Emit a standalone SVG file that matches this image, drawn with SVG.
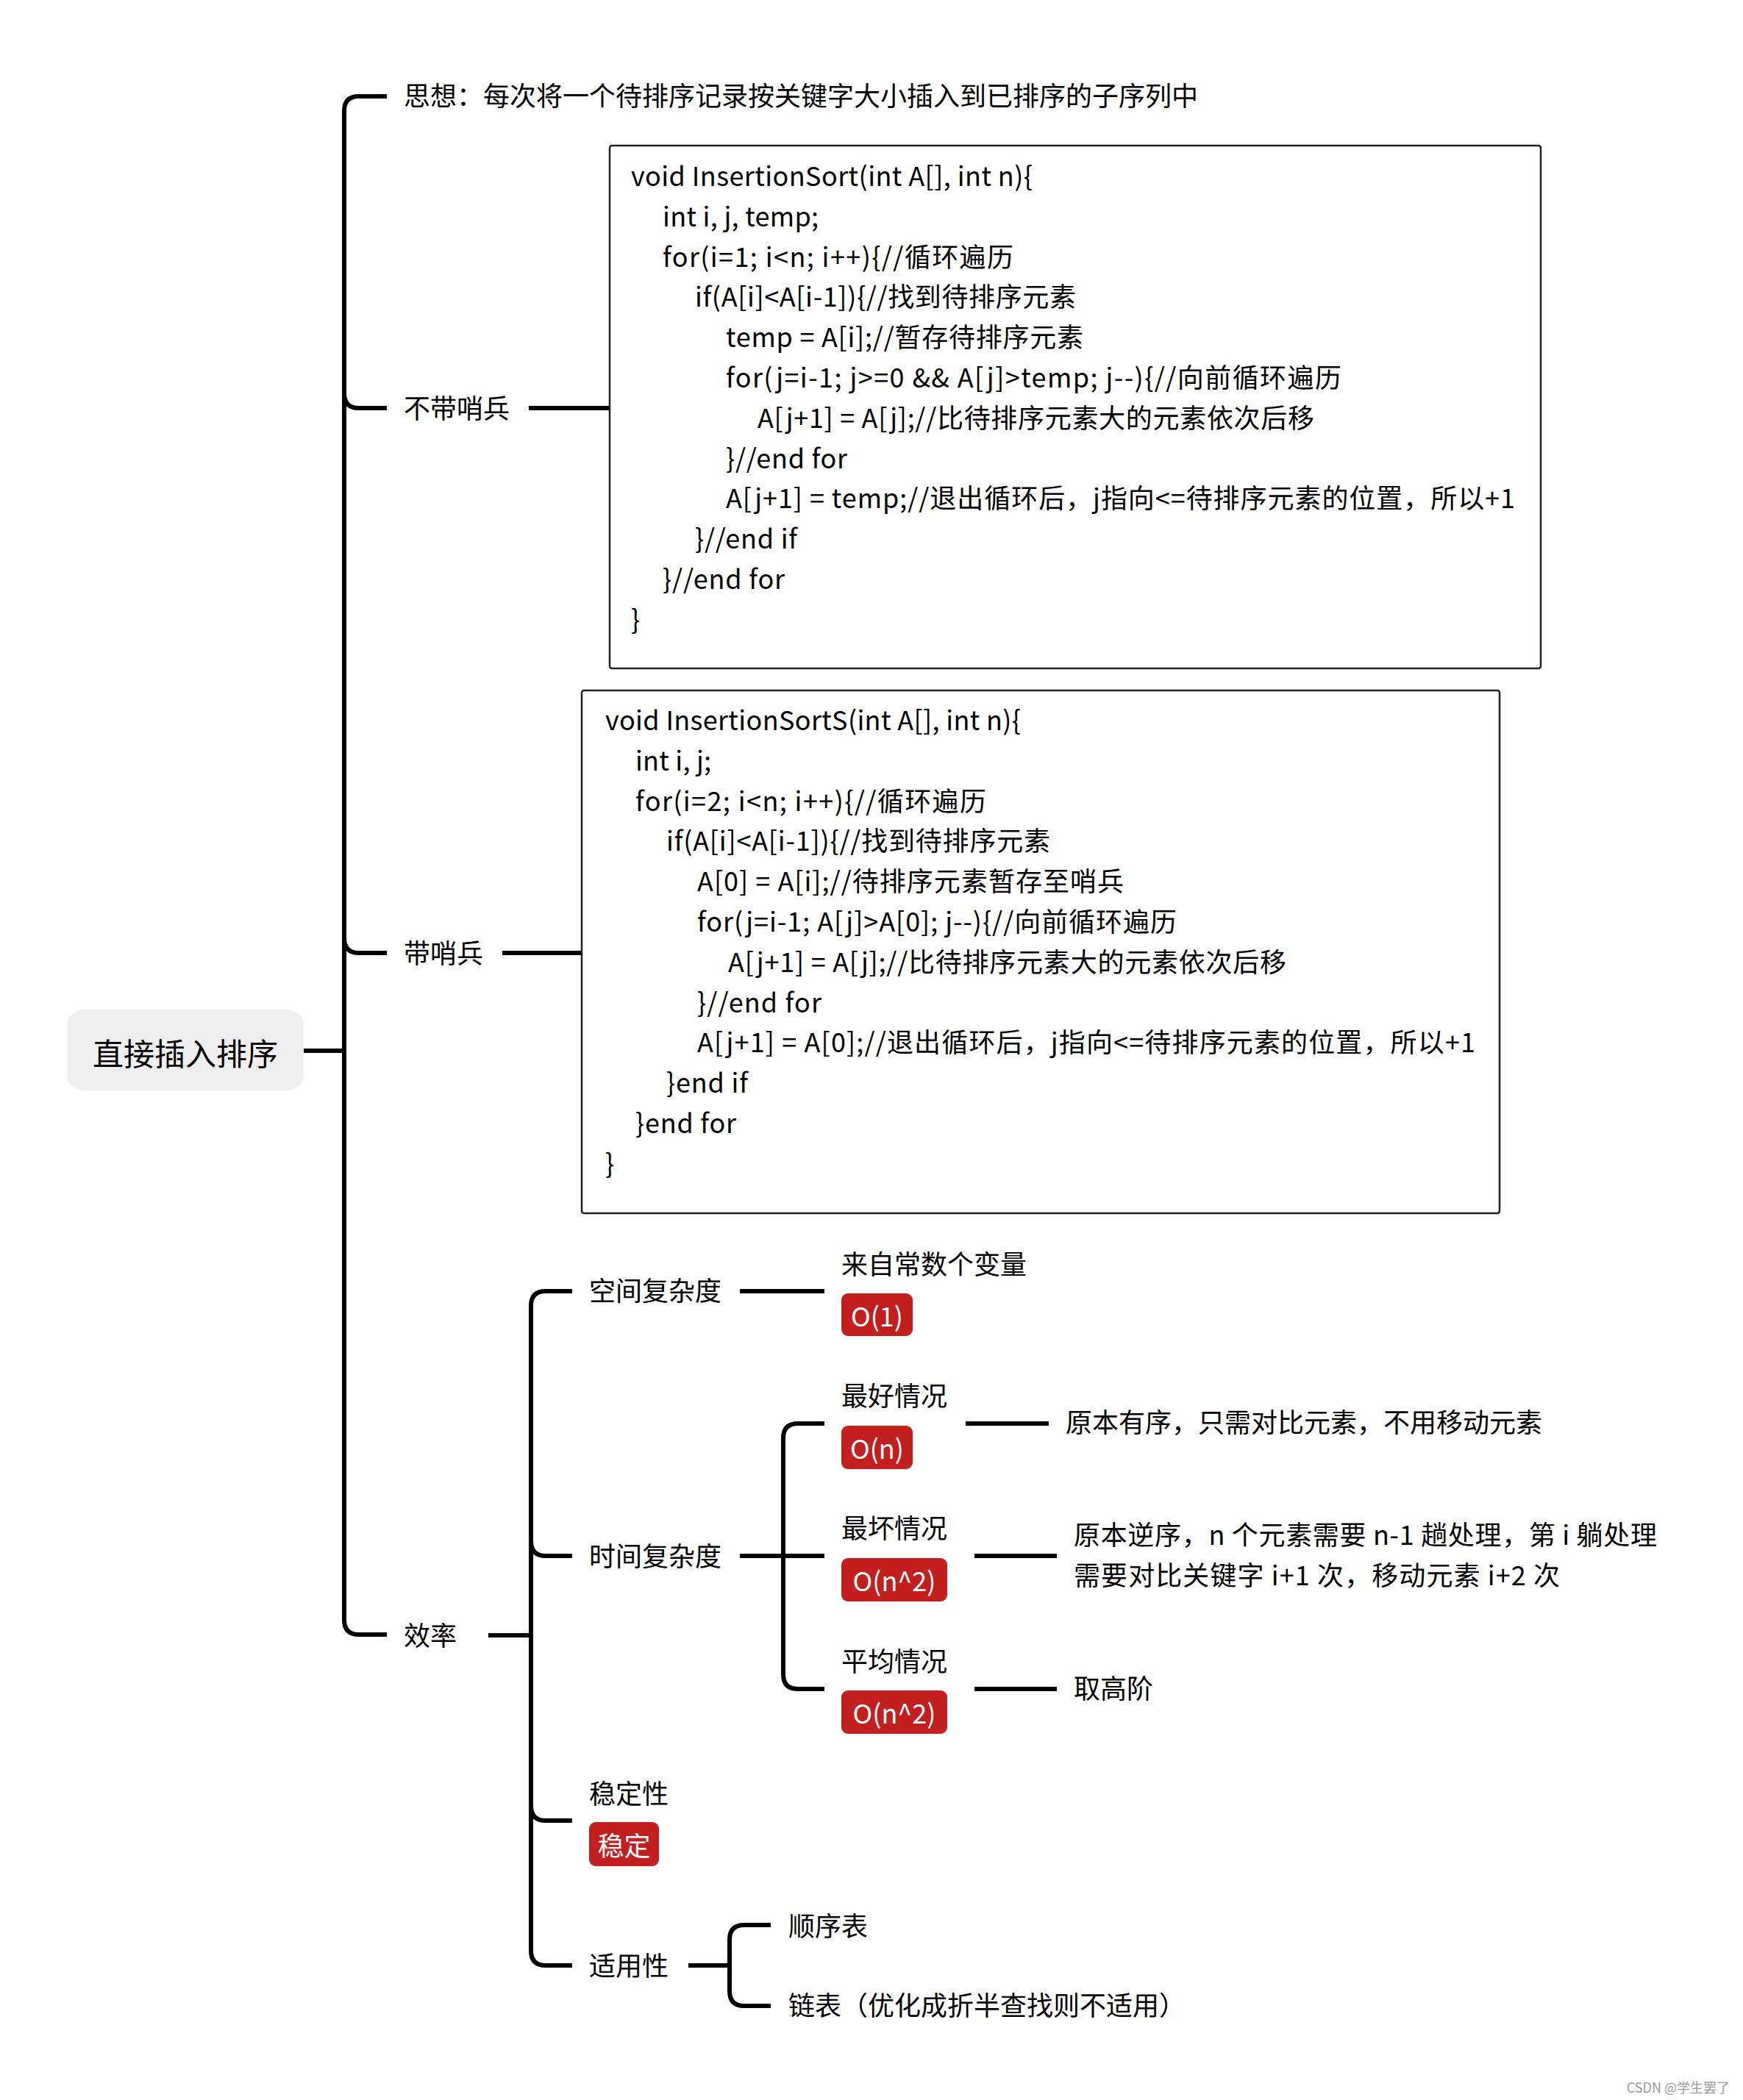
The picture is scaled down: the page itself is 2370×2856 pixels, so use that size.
<svg xmlns="http://www.w3.org/2000/svg" width="2370" height="2856" viewBox="0 0 2370 2856">
<style>
text{font-family:"Noto Sans CJK SC","Microsoft YaHei",sans-serif;fill:#000;dominant-baseline:central}
.t{font-size:36px}
.root{font-size:42px;text-anchor:middle}
.code{font-size:36px}
.bt{font-size:36px;fill:#fff;text-anchor:middle}
.wm{font-size:18px;fill:#999;text-anchor:end}
.ln{fill:none;stroke:#000;stroke-width:6;stroke-linecap:butt}
.box{fill:#fff;stroke:#222;stroke-width:2.5}
.badge{fill:#C21F1E}
</style>
<rect width="2370" height="2856" fill="#fff"/>
<g id="connectors">
<path class="ln" d="M413 1429 H468"/>
<path class="ln" d="M526 131 H488 Q468 131 468 151 V2203 Q468 2223 488 2223 H526"/>
<path class="ln" d="M468 535 Q468 555 488 555 H526"/>
<path class="ln" d="M468 1276 Q468 1296 488 1296 H526"/>
<path class="ln" d="M719 555 H830"/>
<path class="ln" d="M683 1296 H793"/>
<path class="ln" d="M664 2224 H722"/>
<path class="ln" d="M778 1756 H742 Q722 1756 722 1776 V2653 Q722 2673 742 2673 H778"/>
<path class="ln" d="M722 2096 Q722 2116 742 2116 H778"/>
<path class="ln" d="M722 2456 Q722 2476 742 2476 H778"/>
<path class="ln" d="M1006 1756 H1121"/>
<path class="ln" d="M1006 2116 H1121"/>
<path class="ln" d="M1121 1936 H1085 Q1065 1936 1065 1956 V2277 Q1065 2297 1085 2297 H1121"/>
<path class="ln" d="M1313 1936 H1426"/>
<path class="ln" d="M1325 2116 H1437"/>
<path class="ln" d="M1325 2297 H1437"/>
<path class="ln" d="M936 2673 H992"/>
<path class="ln" d="M1048 2618 H1012 Q992 2618 992 2638 V2708 Q992 2728 1012 2728 H1048"/>
</g>
<g id="root">
<rect x="91" y="1373" width="322" height="110" rx="22" fill="#EFEFEF"/>
<text class="root" x="252" y="1430">直接插入排序</text>
</g>
<g id="idea"><text class="t" x="549" y="128">思想：每次将一个待排序记录按关键字大小插入到已排序的子序列中</text></g>
<g id="nosentinel"><text class="t" x="549" y="553">不带哨兵</text></g>
<g id="code1">
<rect class="box" x="829" y="198" width="1266" height="711" rx="3"/>
<text class="code" x="858" y="237" textLength="546" lengthAdjust="spacing">void InsertionSort(int A[], int n){</text>
<text class="code" x="901" y="292" textLength="212" lengthAdjust="spacing">int i, j, temp;</text>
<text class="code" x="901" y="347" textLength="477" lengthAdjust="spacing">for(i=1; i&lt;n; i++){//循环遍历</text>
<text class="code" x="945" y="401" textLength="518" lengthAdjust="spacing">if(A[i]&lt;A[i-1]){//找到待排序元素</text>
<text class="code" x="987" y="456" textLength="486" lengthAdjust="spacing">temp = A[i];//暂存待排序元素</text>
<text class="code" x="987" y="511" textLength="837" lengthAdjust="spacing">for(j=i-1; j&gt;=0 &amp;&amp; A[j]&gt;temp; j--){//向前循环遍历</text>
<text class="code" x="1030" y="566" textLength="757" lengthAdjust="spacing">A[j+1] = A[j];//比待排序元素大的元素依次后移</text>
<text class="code" x="987" y="621" textLength="165" lengthAdjust="spacing">}//end for</text>
<text class="code" x="987" y="675" textLength="1073" lengthAdjust="spacing">A[j+1] = temp;//退出循环后，j指向&lt;=待排序元素的位置，所以+1</text>
<text class="code" x="945" y="730" textLength="139" lengthAdjust="spacing">}//end if</text>
<text class="code" x="901" y="785" textLength="166" lengthAdjust="spacing">}//end for</text>
<text class="code" x="858" y="840">}</text>
</g>
<g id="sentinel"><text class="t" x="549" y="1294">带哨兵</text></g>
<g id="code2">
<rect class="box" x="791" y="939" width="1248" height="711" rx="3"/>
<text class="code" x="823" y="977" textLength="565" lengthAdjust="spacing">void InsertionSortS(int A[], int n){</text>
<text class="code" x="864" y="1032" textLength="103" lengthAdjust="spacing">int i, j;</text>
<text class="code" x="864" y="1087" textLength="477" lengthAdjust="spacing">for(i=2; i&lt;n; i++){//循环遍历</text>
<text class="code" x="906" y="1141" textLength="522" lengthAdjust="spacing">if(A[i]&lt;A[i-1]){//找到待排序元素</text>
<text class="code" x="948" y="1196" textLength="580" lengthAdjust="spacing">A[0] = A[i];//待排序元素暂存至哨兵</text>
<text class="code" x="948" y="1251" textLength="652" lengthAdjust="spacing">for(j=i-1; A[j]&gt;A[0]; j--){//向前循环遍历</text>
<text class="code" x="990" y="1306" textLength="759" lengthAdjust="spacing">A[j+1] = A[j];//比待排序元素大的元素依次后移</text>
<text class="code" x="948" y="1361" textLength="169" lengthAdjust="spacing">}//end for</text>
<text class="code" x="948" y="1415" textLength="1058" lengthAdjust="spacing">A[j+1] = A[0];//退出循环后，j指向&lt;=待排序元素的位置，所以+1</text>
<text class="code" x="906" y="1470" textLength="111" lengthAdjust="spacing">}end if</text>
<text class="code" x="864" y="1525" textLength="137" lengthAdjust="spacing">}end for</text>
<text class="code" x="823" y="1580">}</text>
</g>
<g id="efficiency"><text class="t" x="549" y="2222">效率</text></g>
<g id="space"><text class="t" x="801" y="1753">空间复杂度</text></g>
<g id="space-o1">
<text class="t" x="1144" y="1717">来自常数个变量</text>
<rect class="badge" x="1144" y="1759" width="97" height="58" rx="9"/>
<text class="bt" x="1192.5" y="1788">O(1)</text>
</g>
<g id="time"><text class="t" x="801" y="2114">时间复杂度</text></g>
<g id="best">
<text class="t" x="1144" y="1896">最好情况</text>
<rect class="badge" x="1144" y="1939" width="97" height="59" rx="9"/>
<text class="bt" x="1192.5" y="1968">O(n)</text>
</g>
<g id="best-note"><text class="t" x="1449" y="1932">原本有序，只需对比元素，不用移动元素</text></g>
<g id="worst">
<text class="t" x="1144" y="2076">最坏情况</text>
<rect class="badge" x="1144" y="2119" width="144" height="59" rx="9"/>
<text class="bt" x="1216" y="2148">O(n^2)</text>
</g>
<g id="worst-note">
<text class="t" x="1460" y="2085" textLength="793" lengthAdjust="spacing">原本逆序，n 个元素需要 n-1 趟处理，第 i 躺处理</text>
<text class="t" x="1460" y="2140" textLength="661" lengthAdjust="spacing">需要对比关键字 i+1 次，移动元素 i+2 次</text>
</g>
<g id="avg">
<text class="t" x="1144" y="2257">平均情况</text>
<rect class="badge" x="1144" y="2299" width="144" height="59" rx="9"/>
<text class="bt" x="1216" y="2328">O(n^2)</text>
</g>
<g id="avg-note"><text class="t" x="1460" y="2294">取高阶</text></g>
<g id="stability">
<text class="t" x="801" y="2437">稳定性</text>
<rect class="badge" x="801" y="2478" width="95" height="60" rx="9"/>
<text class="bt" x="848.5" y="2508">稳定</text>
</g>
<g id="applicability"><text class="t" x="801" y="2671">适用性</text></g>
<g id="seq"><text class="t" x="1072" y="2617">顺序表</text></g>
<g id="linked"><text class="t" x="1072" y="2725">链表（优化成折半查找则不适用）</text></g>
<text class="wm" x="2352" y="2838">CSDN @学生罢了</text>
</svg>
